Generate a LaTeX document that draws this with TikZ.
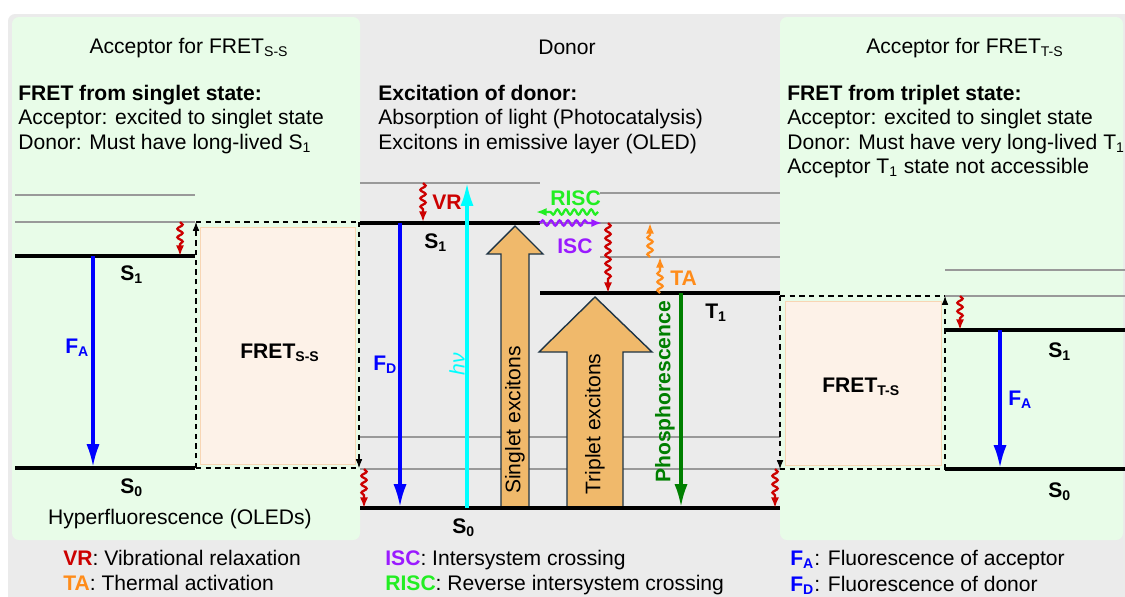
\documentclass[tikz,border=0pt]{standalone}
\usepackage{fontspec}
\setmainfont{Liberation Sans}
\usetikzlibrary{arrows.meta,decorations.pathmorphing}

\definecolor{accgreen}{HTML}{E8FCE8}
\definecolor{bggray}{HTML}{EBEBEB}
\definecolor{fretfill}{HTML}{FDF2E8}
\definecolor{fretline}{HTML}{F8D6B4}
\definecolor{vrred}{HTML}{CC0000}
\definecolor{taorange}{HTML}{FF8C1A}
\definecolor{iscpurple}{HTML}{9A1AFF}
\definecolor{riscgreen}{HTML}{22EE22}
\definecolor{excfill}{HTML}{F0B96B}
\definecolor{excline}{HTML}{1E3445}
\definecolor{phosgreen}{HTML}{007F00}
\definecolor{hnucyan}{HTML}{00FFFF}
\definecolor{flblue}{HTML}{0000FF}

\begin{document}
\begin{tikzpicture}[x=0.02cm,y=-0.02cm,inner sep=0pt,
    elev/.style={line width=2.3pt},
    sublevel/.style={line width=0.8pt,black!40},
    emit/.style={line width=1.8pt,-{Latex[length=13pt,width=7.5pt]}},
    wavy/.style={line width=1.3pt,-{Latex[length=6pt,width=4.6pt]},decorate,
        decoration={snake,amplitude=1.5pt,segment length=4.8pt,post length=6pt}},
    fretdash/.style={line width=0.6pt,dash pattern=on 3pt off 2.5pt},
    fretarr/.style={fretdash,-{Latex[length=5pt,width=3.8pt]}},
    lbl/.style={anchor=base west,font=\bfseries}]
    \fontsize{12}{14}\selectfont
    \useasboundingbox (0,0) rectangle (1125,596);
    %% Panels
    \fill[bggray,rounded corners=4pt] (8,14) rectangle (1140,610);
    \fill[accgreen,rounded corners=4pt] (12,17) rectangle (360,540);
    \fill[accgreen,rounded corners=4pt] (780,17) rectangle (1123,540);
    %% Headings
    \node[anchor=base] (ttlSS) at (189,53) {Acceptor for FRET\textsubscript{S-S}};
    \node[anchor=base] (ttlD) at (567,54) {Donor};
    \node[anchor=base] (ttlTS) at (965,53) {Acceptor for FRET\textsubscript{T-S}};
    \node[lbl] (hdSS) at (18,100) {FRET from singlet state:};
    \node[anchor=base west] (lnSSa) at (18,124.5) {Acceptor: excited to singlet state};
    \node[anchor=base west] (lnSSb) at (18,149) {Donor: Must have long-lived S\textsubscript{1}};
    \node[lbl] (hdD) at (378,100) {Excitation of donor:};
    \node[anchor=base west] (lnDa) at (378,124.5) {Absorption of light (Photocatalysis)};
    \node[anchor=base west] (lnDb) at (378,149) {Excitons in emissive layer (OLED)};
    \node[lbl] (hdTS) at (787,100) {FRET from triplet state:};
    \node[anchor=base west] (lnTSa) at (787,124.5) {Acceptor: excited to singlet state};
    \node[anchor=base west] (lnTSb) at (787,149) {Donor: Must have very long-lived T\textsubscript{1}};
    \node[anchor=base west] (lnTSc) at (787,173) {Acceptor T\textsubscript{1} state not accessible};
    %% Vibrational sublevels
    \draw[sublevel] (15,195) -- (195,195);
    \draw[sublevel] (15,222) -- (195,222);
    \draw[sublevel] (360,183) -- (540,183);
    \draw[sublevel] (600,193) -- (780,193);
    \draw[sublevel] (540,223) -- (780,223);
    \draw[sublevel] (600,257) -- (780,257);
    \draw[sublevel] (360,437) -- (780,437);
    \draw[sublevel] (360,469) -- (780,469);
    \draw[sublevel] (945,270) -- (1125,270);
    \draw[sublevel] (945,296) -- (1125,296);
    %% FRET boxes
    \filldraw[fill=fretfill,draw=fretline] (200,227) rectangle (355,464);
    \draw[fretdash] (196,222) -- (359,222);
    \draw[fretdash] (196,468) -- (359,468);
    \draw[fretarr] (196,468) -- (196,222);
    \draw[fretarr] (359,222) -- (359,468);
    \node[lbl] (fretSS) at (240,358) {FRET\textsubscript{S-S}};
    \filldraw[fill=fretfill,draw=fretline] (785,301) rectangle (941,465);
    \draw[fretdash] (780,296) -- (945,296);
    \draw[fretdash] (780,469) -- (945,469);
    \draw[fretarr] (780,296) -- (780,469);
    \draw[fretarr] (945,469) -- (945,296);
    \node[lbl] (fretTS) at (822,392) {FRET\textsubscript{T-S}};
    %% Exciton arrows
    \filldraw[fill=excfill,draw=excline,line width=0.8pt] (501,508) -- (501,254) -- (487,254)
        -- (515,226) -- (543,254) -- (529,254) -- (529,508) -- cycle;
    \filldraw[fill=excfill,draw=excline,line width=0.8pt] (567,508) -- (567,352) -- (539,352)
        -- (595,297) -- (652,352) -- (623,352) -- (623,508) -- cycle;
    \node[rotate=90] (sing) at (515,420) {Singlet excitons};
    \node[rotate=90] (trip) at (595,424) {Triplet excitons};
    %% Electronic levels
    \draw[elev] (15,256) -- (195,256);
    \draw[elev] (15,468) -- (195,468);
    \draw[elev] (360,223) -- (540,223);
    \draw[elev] (540,293) -- (780,293);
    \draw[elev] (360,508) -- (780,508);
    \draw[elev] (945,330) -- (1125,330);
    \draw[elev] (945,469) -- (1125,469);
    \node[lbl] (S1a) at (120,280) {S\textsubscript{1}};
    \node[lbl] (S0a) at (120,493) {S\textsubscript{0}};
    \node[lbl] (S1d) at (424,248) {S\textsubscript{1}};
    \node[lbl] (S0d) at (452,533) {S\textsubscript{0}};
    \node[lbl] (T1d) at (705,318) {T\textsubscript{1}};
    \node[lbl] (S1b) at (1048,357) {S\textsubscript{1}};
    \node[lbl] (S0b) at (1048,497) {S\textsubscript{0}};
    %% Radiative transitions
    \draw[emit,flblue] (93,256) -- (93,467);
    \node[lbl,text=flblue] (FAa) at (65,353) {F\textsubscript{A}};
    \draw[emit,flblue] (400,223) -- (400,507);
    \node[lbl,text=flblue] (FD) at (373,370) {F\textsubscript{D}};
    \draw[emit,hnucyan] (467,508) -- (467,183);
    \node[rotate=90,text=hnucyan] (hnu) at (457,364) {\textit{hν}};
    \draw[emit,phosgreen] (681,293) -- (681,507);
    \node[rotate=90,font=\bfseries,text=phosgreen] (phos) at (665,392) {Phosphorescence};
    \draw[emit,flblue] (1000,330) -- (1000,468);
    \node[lbl,text=flblue] (FAb) at (1008,405) {F\textsubscript{A}};
    %% Non-radiative transitions
    \draw[wavy,vrred] (180,222) -- (180,256);
    \draw[wavy,vrred] (423,183) -- (423,222);
    \draw[wavy,vrred] (608,223) -- (608,293);
    \draw[wavy,vrred] (364,469) -- (364,508);
    \draw[wavy,vrred] (775,469) -- (775,508);
    \draw[wavy,vrred] (960,296) -- (960,330);
    \draw[wavy,riscgreen] (598,212) -- (536,212);
    \draw[wavy,iscpurple] (540,223) -- (602,223);
    \draw[wavy,taorange] (660,293) -- (660,257);
    \draw[wavy,taorange] (650,257) -- (650,223);
    \node[lbl,text=vrred] (VR) at (432,209) {VR};
    \node[lbl,text=riscgreen] (RISC) at (550,205) {RISC};
    \node[lbl,text=iscpurple] (ISC) at (557,253) {ISC};
    \node[lbl,text=taorange] (TA) at (670,285) {TA};
    %% Footers
    \node[anchor=base] (hyp) at (180,524) {Hyperfluorescence (OLEDs)};
    \node[anchor=base west] (lgVR) at (63,565) {\textcolor{vrred}{\bfseries VR}: Vibrational relaxation};
    \node[anchor=base west] (lgTA) at (63,590) {\textcolor{taorange}{\bfseries TA}: Thermal activation};
    \node[anchor=base west] (lgISC) at (385,565) {\textcolor{iscpurple}{\bfseries ISC}: Intersystem crossing};
    \node[anchor=base west] (lgRISC) at (385,590) {\textcolor{riscgreen}{\bfseries RISC}: Reverse intersystem crossing};
    \node[anchor=base west] (lgFA) at (790,565) {\textcolor{flblue}{\bfseries F\textsubscript{A}}: Fluorescence of acceptor};
    \node[anchor=base west] (lgFD) at (790,591) {\textcolor{flblue}{\bfseries F\textsubscript{D}}: Fluorescence of donor};
\end{tikzpicture}
\end{document}
